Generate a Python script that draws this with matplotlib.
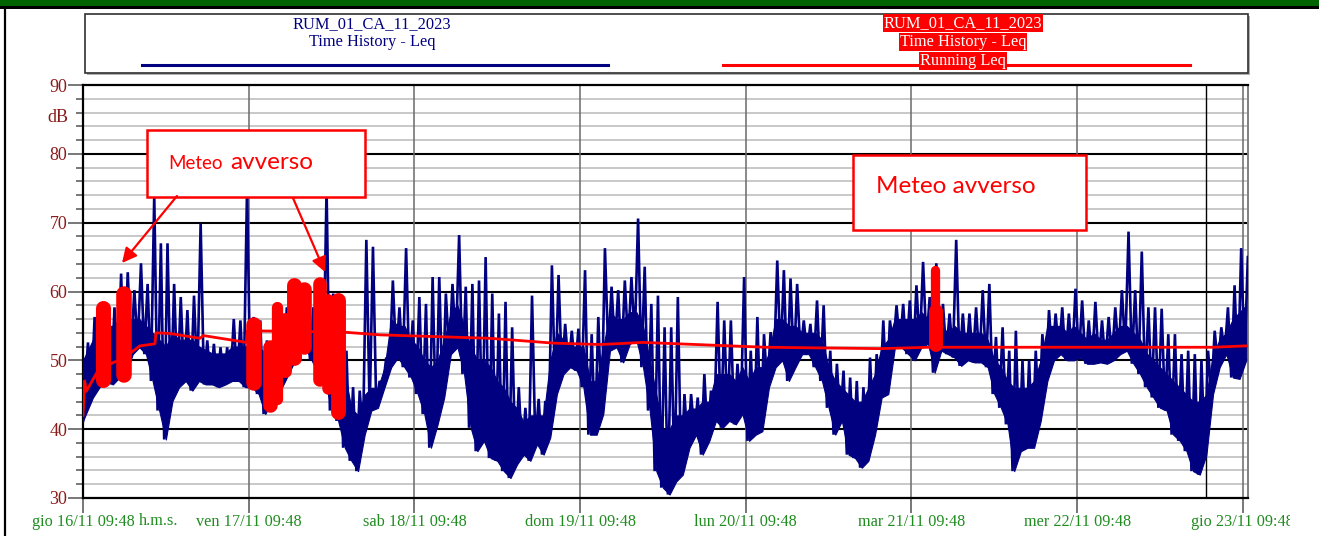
import numpy as np
import matplotlib
matplotlib.use("Agg")
import matplotlib.pyplot as plt
from matplotlib.patches import Rectangle, FancyArrowPatch
from matplotlib.lines import Line2D

# ------------------------------------------------------------------ data
station = "RUM_01_CA_11_2023"
series_name = "Time History - Leq"
running_name = "Running Leq"
annot_text = ["Meteo", "avverso"]
y_unit = "dB"
day_labels = ["gio 16/11 09:48", "ven 17/11 09:48", "sab 18/11 09:48",
              "dom 19/11 09:48", "lun 20/11 09:48", "mar 21/11 09:48",
              "mer 22/11 09:48", "gio 23/11 09:48"]
time_unit = "h.m.s."

# Leq time history per 0.04-day slot:
# lowest value, upper edge of the dense band, highest peak
slot_days = 0.04
leq_lo = [41.2, 44.6, 46.1, 47.0, 46.5, 47.5, 48.0, 50.9, 51.9, 50.9,
          47.0, 42.7, 38.5, 44.1, 46.1, 47.0, 45.6, 47.0, 46.5, 46.5,
          46.1, 46.5, 47.0, 47.0, 46.1, 46.1, 45.1, 42.2, 44.1, 45.1,
          47.0, 49.0, 50.9, 51.9, 50.0, 48.0, 47.0, 42.7, 41.2, 37.3,
          35.4, 33.9, 39.2, 42.7, 43.1, 46.1, 49.0, 50.4, 49.0, 47.5,
          45.1, 42.2, 37.3, 40.7, 44.6, 50.9, 51.9, 48.0, 40.2, 36.8,
          38.3, 35.8, 35.4, 33.9, 32.9, 34.9, 36.3, 35.4, 37.8, 36.3,
          38.8, 45.1, 48.0, 49.0, 48.5, 46.1, 39.2, 39.2, 42.2, 51.4,
          51.9, 49.7, 52.4, 52.9, 49.0, 42.7, 33.9, 31.5, 30.5, 32.4,
          33.4, 37.3, 39.2, 36.3, 38.3, 41.2, 40.2, 41.2, 40.7, 42.2,
          38.3, 39.2, 39.7, 46.1, 49.0, 50.0, 47.0, 49.0, 50.9, 50.9,
          49.0, 47.0, 43.1, 39.2, 41.2, 36.3, 35.8, 34.4, 35.4, 39.2,
          44.6, 45.1, 51.9, 51.9, 50.9, 50.0, 51.9, 52.4, 48.2, 51.4,
          50.9, 50.4, 49.2, 50.0, 49.7, 49.7, 49.0, 45.1, 43.1, 40.7,
          33.9, 36.8, 37.3, 37.3, 41.2, 47.0, 50.0, 50.9, 50.0, 50.0,
          50.4, 49.5, 49.5, 49.7, 49.5, 50.0, 50.9, 51.4, 49.5, 48.0,
          46.1, 44.6, 43.1, 42.7, 39.2, 38.3, 36.8, 33.9, 33.4, 36.3,
          45.1, 49.0, 50.9, 47.5, 47.3, 50.0]
leq_core = [50, 53, 55, 55, 55, 56, 56, 56, 56, 55,
            54, 53, 52, 54, 53, 53, 53, 52, 51.5, 51,
            51, 51, 52, 52, 52, 53, 52, 51, 52, 53,
            55, 57, 57, 57, 55, 56, 55, 54, 53, 48,
            43, 42, 45, 46, 46, 49, 56, 55, 55, 53,
            52, 50, 49, 50, 53, 57, 58, 55, 52, 50,
            50, 49, 47, 46, 44, 43, 41, 42, 42, 42,
            50, 54, 53, 52, 52, 52, 47, 47, 52, 57,
            56, 56, 57, 57, 55, 50, 45, 40, 40, 42,
            42, 43, 43, 44, 44, 48, 48, 48, 47, 49,
            47, 49, 49, 51, 56, 56, 55, 55, 54, 54,
            54, 53, 49, 47, 46, 45, 44, 44, 46, 48,
            52, 53, 56, 56, 56, 56, 57, 56, 55, 55,
            54, 55, 54, 54, 54, 54, 53, 50, 49, 47,
            46, 46, 46, 47, 50, 55, 55, 55, 54, 55,
            54, 53, 54, 53, 53, 54, 55, 55, 54, 53,
            51, 50, 49, 48, 47, 46, 45, 44, 44, 45,
            51, 53, 54, 56, 57, 58]
leq_hi = [52.6, 56.3, 57.7, 57.7, 57.7, 62.6, 62.8, 60.2, 64.1, 61.1,
          74.0, 67.0, 67.0, 61.1, 59.2, 57.3, 59.4, 69.9, 52.9, 52.4,
          51.9, 51.9, 56.0, 55.8, 75.0, 56.3, 55.8, 52.9, 53.8, 55.8,
          57.7, 60.2, 60.7, 60.2, 57.7, 60.2, 75.0, 59.7, 59.2, 51.4,
          46.1, 45.6, 67.5, 66.5, 47.0, 50.4, 61.6, 57.7, 66.3, 55.8,
          59.2, 58.2, 62.1, 62.1, 59.7, 61.1, 68.2, 60.7, 61.1, 61.6,
          65.0, 59.7, 56.8, 58.5, 54.8, 46.1, 43.1, 59.4, 44.4, 44.1,
          63.8, 62.4, 55.3, 54.3, 54.6, 63.1, 53.8, 56.3, 66.3, 60.7,
          60.2, 61.6, 62.1, 70.6, 63.6, 58.2, 59.4, 54.8, 54.8, 59.2,
          45.1, 45.1, 44.6, 48.0, 45.6, 58.5, 55.8, 55.8, 49.5, 62.1,
          51.4, 56.3, 53.8, 54.1, 64.5, 63.1, 61.9, 61.1, 55.8, 55.3,
          58.7, 58.0, 51.4, 49.5, 48.5, 47.5, 47.0, 46.1, 50.4, 50.9,
          55.8, 55.8, 58.0, 58.2, 58.7, 60.9, 64.3, 59.2, 64.1, 58.2,
          56.8, 67.5, 56.8, 56.8, 57.7, 60.2, 61.1, 53.4, 54.8, 51.4,
          54.3, 50.0, 50.0, 51.4, 53.8, 57.3, 56.8, 57.7, 56.8, 60.4,
          58.7, 55.8, 58.5, 55.8, 56.3, 57.7, 60.2, 68.7, 60.2, 65.8,
          57.7, 57.7, 57.5, 53.8, 53.8, 50.9, 51.4, 50.9, 50.0, 51.4,
          54.3, 54.8, 57.7, 60.9, 66.3, 65.0]

# Running Leq (days from start, dB)
run_t = [0.0, 0.01, 0.02, 0.083, 0.183, 0.243, 0.304, 0.344, 0.434, 0.440,
         0.525, 0.706, 0.726, 0.988, 0.992, 1.571, 1.792, 2.456, 2.84, 3.12,
         3.38, 4.12, 4.81, 5.11, 6.02, 6.82, 7.02]
run_db = [42.0, 47.0, 45.5, 48.2, 49.7, 50.2, 51.4, 52.1, 52.4, 54.0,
          53.9, 53.2, 53.6, 52.6, 54.3, 54.1, 53.7, 53.2, 52.5, 52.3,
          52.6, 51.9, 51.7, 51.9, 51.9, 51.9, 52.1]

# Leq during adverse weather (start day, end day, max dB, min dB)
meteo_t0 = [0.075, 0.200, 0.985, 1.084, 1.138, 1.180, 1.228, 1.290, 1.388, 1.440, 1.494, 5.114, 5.106]
meteo_t1 = [0.166, 0.294, 1.079, 1.172, 1.206, 1.258, 1.318, 1.378, 1.470, 1.516, 1.584, 5.170, 5.190]
meteo_hi = [58.7, 60.7, 56.3, 53.0, 58.5, 57.0, 62.1, 61.4, 62.1, 59.7, 59.9, 63.8, 58.2]
meteo_lo = [46.1, 46.8, 45.6, 42.4, 43.5, 47.5, 49.2, 50.9, 46.1, 45.0, 41.4, 51.5, 51.2]

cursor_t = 6.777

# ------------------------------------------------------------------ figure
W, H, DPI = 1319, 536, 100
fig = plt.figure(figsize=(W / DPI, H / DPI), dpi=DPI)
fig.patch.set_facecolor("white")

def fx(x):
    return x / W

def fy(y):
    return 1 - y / H

NAVY = "#000080"
RED = "#ff0000"
TICKRED = "#8b1a1a"
GREEN = "#1f8c1f"
SERIF = "Liberation Serif"
SANS = "Lato"

ax_l, ax_r, ax_t, ax_b = 83, 1248, 85, 498
ax = fig.add_axes([fx(ax_l), fy(ax_b), (ax_r - ax_l) / W, (ax_b - ax_t) / H])
xmax = 7.031
ax.set_xlim(0, xmax)
ax.set_ylim(30, 90)
px_day = (ax_r - ax_l) / xmax
px_db = (ax_b - ax_t) / 60.0

# grid
for v in np.arange(32, 90, 2):
    if v % 10 == 0:
        ax.axhline(v, color="black", lw=1.5, zorder=1)
    else:
        ax.axhline(v, color="#c8c8c8", lw=1.4, zorder=0.5)
for d in range(1, 8):
    ax.axvline(d, color="#6a6a6a", lw=1.1, zorder=1)
ax.axvline(cursor_t, color="black", lw=1.0, zorder=1)

# Leq series: dense band + peaks
n = len(leq_lo)
base = np.arange(n) * slot_days
tc = base + 0.5 * slot_days
tc[0] = 0.0
ax.fill_between(tc, leq_lo, leq_core, color=NAVY, lw=0.8, zorder=3)
t = np.empty(2 * n)
v = np.empty(2 * n)
t[0::2] = base + 0.25 * slot_days
t[1::2] = base + 0.75 * slot_days
v[0::2] = leq_lo
v[1::2] = leq_hi
t[0] = 0.0
ax.plot(t, v, color=NAVY, lw=1.9, zorder=3, solid_joinstyle="miter")

# adverse weather strokes
for t0, t1, hi, lo in zip(meteo_t0, meteo_t1, meteo_hi, meteo_lo):
    wpx = (t1 - t0) * px_day
    hw = wpx / 2 / px_db
    c = (t0 + t1) / 2
    a, b = lo + hw, hi - hw
    if b < a:
        a = b = (lo + hi) / 2
    ax.plot([c, c], [a, b], color=RED, lw=wpx * 72 / DPI,
            solid_capstyle="round", zorder=4)

# running Leq
ax.plot(run_t, run_db, color=RED, lw=2.0, zorder=5)

# axes styling
for s in ["left", "bottom", "top"]:
    ax.spines[s].set_color("black")
    ax.spines[s].set_linewidth(1.6)
ax.spines["right"].set_color("#808080")
ax.spines["right"].set_linewidth(1.4)

ax.set_yticks(np.arange(30, 91, 10))
ax.set_yticks(np.arange(30, 91, 2), minor=True)
ax.tick_params(axis="y", which="major", length=10.8, width=1.2, color="#606060",
               labelcolor=TICKRED, labelsize=13, pad=0.5)
ax.tick_params(axis="y", which="minor", length=5.0, width=1.2, color="#606060")
for lab in ax.get_yticklabels():
    lab.set_fontfamily(SERIF)

ax.set_xticks(range(0, 8))
ax.set_xticklabels(day_labels)
ax.tick_params(axis="x", which="major", length=10.8, width=1.2, color="#606060",
               labelcolor=GREEN, labelsize=11.7, pad=0.5)
for lab in ax.get_xticklabels():
    lab.set_fontfamily(SERIF)

fig.text(fx(68), fy(118), y_unit, color=TICKRED, fontsize=13, family=SERIF,
         ha="right", va="center")
fig.text(fx(139), fy(521), time_unit, color=GREEN, fontsize=11.7, family=SERIF,
         ha="left", va="center")

# header bar and frame
fig.patches.append(Rectangle((0, fy(6)), 1, 6 / H, transform=fig.transFigure,
                             facecolor="#006400", edgecolor="none", zorder=10))
fig.patches.append(Rectangle((0, fy(9)), 1, 3 / H, transform=fig.transFigure,
                             facecolor="black", edgecolor="none", zorder=10))
fig.add_artist(Line2D([fx(5), fx(5)], [0, fy(8)], transform=fig.transFigure,
                      color="black", lw=1.6, zorder=10))

# legend box
fig.patches.append(Rectangle((fx(87), fy(75)), (1248 - 85) / W, (75 - 16) / H,
                             transform=fig.transFigure, facecolor="#b0b0b0",
                             edgecolor="none", zorder=6))
fig.patches.append(Rectangle((fx(85), fy(73)), (1248 - 85) / W, (73 - 14) / H,
                             transform=fig.transFigure, facecolor="white",
                             edgecolor="#303030", lw=1.2, zorder=7))
fig.text(fx(372), fy(24), station, color=NAVY, fontsize=11.8, family=SERIF,
         ha="center", va="center", zorder=8)
fig.text(fx(372), fy(42), series_name, color=NAVY, fontsize=11.8, family=SERIF,
         ha="center", va="center", zorder=8)
fig.add_artist(Line2D([fx(142), fx(608)], [fy(65), fy(65)], transform=fig.transFigure,
                      color=NAVY, lw=2.2, zorder=8))
fig.add_artist(Line2D([fx(723), fx(1190)], [fy(65), fy(65)], transform=fig.transFigure,
                      color=RED, lw=2.2, zorder=8))
for i, s in enumerate([station, series_name, running_name]):
    fig.text(fx(963), fy(23 + 19 * i), s, color="white", fontsize=11.8, family=SERIF,
             ha="center", va="center", zorder=9 + i,
             bbox=dict(facecolor=RED, edgecolor="none", pad=0.6))

# annotation boxes
fig.patches.append(Rectangle((fx(147), fy(197)), (365 - 147) / W, (197 - 130) / H,
                             transform=fig.transFigure, facecolor="white",
                             edgecolor=RED, lw=1.8, zorder=12))
fig.patches.append(Rectangle((fx(853), fy(230)), (1086 - 853) / W, (230 - 155) / H,
                             transform=fig.transFigure, facecolor="white",
                             edgecolor=RED, lw=1.8, zorder=12))
fig.text(fx(168), fy(169), annot_text[0], color=RED, fontsize=13.5, family=SANS,
         ha="left", va="baseline", zorder=13)
fig.text(fx(230), fy(169), annot_text[1], color=RED, fontsize=17.5, family=SANS,
         ha="left", va="baseline", zorder=13)
fig.text(fx(876), fy(193), " ".join(annot_text), color=RED, fontsize=17.5, family=SANS,
         ha="left", va="baseline", zorder=13)
for (x0, y0), (x1, y1) in [((177, 196), (122, 263)), ((293, 198), (325, 272))]:
    fig.add_artist(FancyArrowPatch((fx(x0), fy(y0)), (fx(x1), fy(y1)),
                                   transform=fig.transFigure, arrowstyle="-|>",
                                   mutation_scale=22, color=RED, lw=1.6,
                                   shrinkA=0, shrinkB=0, zorder=13))

# clip of the last label at the page edge
fig.patches.append(Rectangle((fx(1290), 0), 1 - fx(1290), fy(505),
                             transform=fig.transFigure, facecolor="white",
                             edgecolor="none", zorder=20))

fig.savefig("out.png", dpi=DPI)
